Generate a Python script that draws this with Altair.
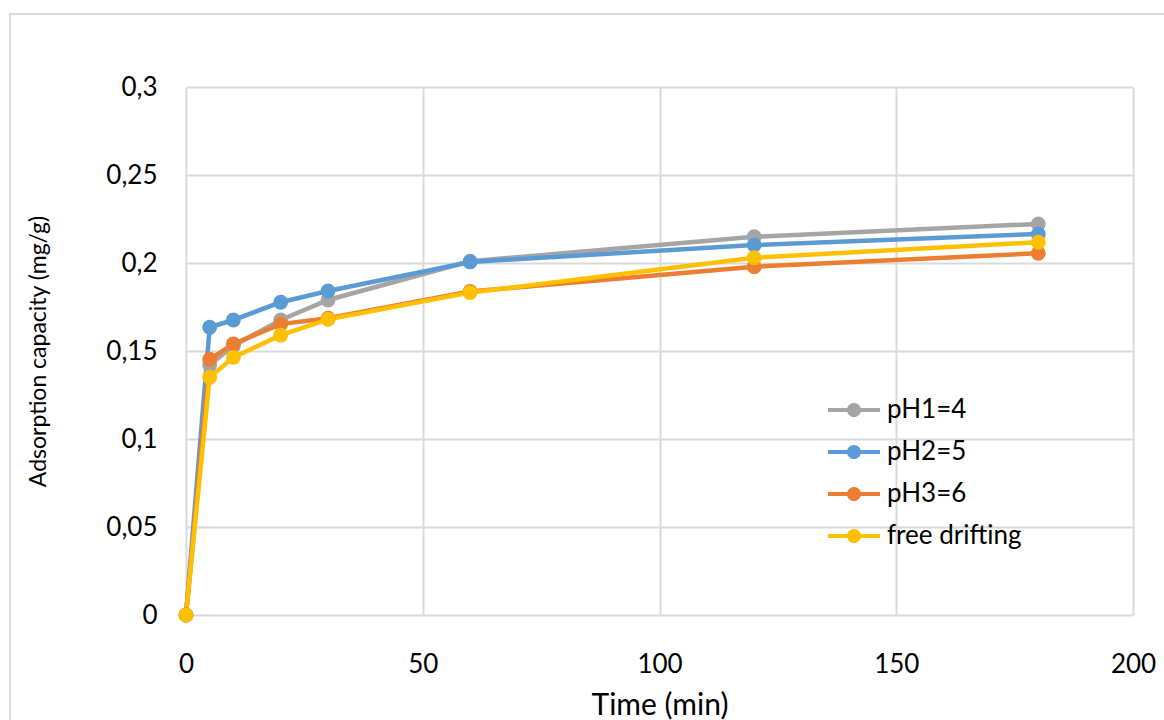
import altair as alt
import pandas as pd

# Contact time (min)
time_min = [0, 5, 10, 20, 30, 60, 120, 180]

# Adsorption capacity (mg/g) for each pH condition
ph1_4 = [0.0, 0.142, 0.153, 0.1676, 0.179, 0.201, 0.2149, 0.2222]
ph2_5 = [0.0, 0.1635, 0.1676, 0.1777, 0.1841, 0.2006, 0.2102, 0.2165]
ph3_6 = [0.0, 0.1453, 0.154, 0.1653, 0.1686, 0.1838, 0.1979, 0.2055]
free_drifting = [0.0, 0.135, 0.1464, 0.159, 0.168, 0.1832, 0.203, 0.2118]

series_names = ["pH1=4", "pH2=5", "pH3=6", "free drifting"]
series_values = [ph1_4, ph2_5, ph3_6, free_drifting]
series_colors = ["#A5A5A5", "#5B9BD5", "#ED7D31", "#FFC000"]

rows = []
for order, (name, vals) in enumerate(zip(series_names, series_values)):
    for t, v in zip(time_min, vals):
        rows.append({"time": t, "capacity": v, "series": name, "order": order})
df = pd.DataFrame(rows)

FONT = "Lato"
GRID = "#D9D9D9"

color_scale = alt.Scale(domain=series_names, range=series_colors)

# legend symbol: a short line with a dot in the middle; the two empty
# sub-paths above and below only pad the symbol's bounds so rows are even
legend_symbol = (
    "M0,-0.59L0,-0.59Z M0,0.59L0,0.59Z "
    "M-1,-0.08H1V0.08H-1Z "
    "M0.27,0A0.27,0.27,0,1,1,-0.27,0A0.27,0.27,0,1,1,0.27,0Z"
)
legend = alt.Legend(
    title=None,
    orient="none",
    legendX=642,
    legendY=297,
    symbolType=legend_symbol,
    symbolSize=2704,
    symbolStrokeWidth=0,
    symbolOpacity=1,
    labelFontSize=26,
    labelFont=FONT,
    labelColor="#000000",
    labelOffset=7,
    rowPadding=0,
    padding=0,
)

x_enc = alt.X(
    "time:Q",
    scale=alt.Scale(domain=[0, 200], nice=False),
    axis=alt.Axis(
        values=[0, 50, 100, 150, 200],
        title="Time (min)",
        domain=False,
        ticks=False,
        tickSize=0,
        labelFlush=False,
        labelPadding=36,
        titleX=473.5,
        titleY=90,
        titleBaseline="middle",
        titleFontSize=30,
    ),
)
y_enc = alt.Y(
    "capacity:Q",
    scale=alt.Scale(domain=[0, 0.3], nice=False),
    axis=alt.Axis(
        values=[0, 0.05, 0.1, 0.15, 0.2, 0.25, 0.3],
        labelExpr="replace(format(datum.value, ''), '.', ',')",
        title="Adsorption capacity (mg/g)",
        domain=False,
        ticks=False,
        tickSize=0,
        labelFlush=False,
        labelPadding=29,
        titleX=-148,
        titleY=264,
        titleAngle=-90,
        titleAlign="center",
        titleBaseline="middle",
        titleFontSize=23,
    ),
)

lines = alt.Chart(df).mark_line(strokeWidth=4.5).encode(
    x=x_enc,
    y=y_enc,
    color=alt.Color("series:N", scale=color_scale, sort=series_names, legend=legend),
    order="order:Q",
)

points = alt.Chart(df).mark_point(filled=True, size=220, opacity=1).encode(
    x="time:Q",
    y="capacity:Q",
    color=alt.Color("series:N", scale=color_scale, sort=series_names, legend=legend),
    order="order:Q",
)

# outer frame around the whole chart
frame = alt.Chart(pd.DataFrame({"k": [0]})).mark_rect(
    fill=None, stroke=GRID, strokeWidth=2
).encode(
    x=alt.value(-176),
    x2=alt.value(1100),
    y=alt.value(-73),
    y2=alt.value(700),
)

chart = (
    alt.layer(frame, lines, points)
    .properties(
        width=947,
        height=528,
        autosize=alt.AutoSizeParams(type="none"),
        padding={"left": 186, "top": 87, "right": 31, "bottom": 105},
        background="white",
    )
    .configure_view(stroke=None)
    .configure_axis(
        grid=True,
        gridColor=GRID,
        gridWidth=2,
        labelFont=FONT,
        labelFontSize=26,
        labelColor="#000000",
        titleFont=FONT,
        titleFontWeight="normal",
        titleColor="#000000",
    )
)

chart.save("out.html", embed_options={"renderer": "svg", "actions": False})
